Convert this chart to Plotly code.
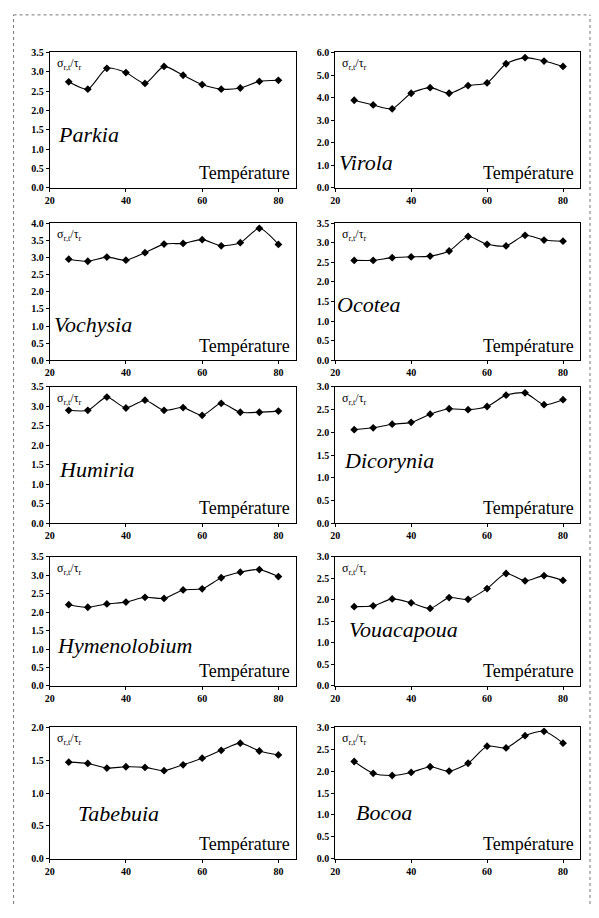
import plotly.graph_objects as go

temperature = [25, 30, 35, 40, 45, 50, 55, 60, 65, 70, 75, 80]

species = ["Parkia", "Virola", "Vochysia", "Ocotea", "Humiria",
           "Dicorynia", "Hymenolobium", "Vouacapoua", "Tabebuia", "Bocoa"]

parkia = [2.74, 2.55, 3.09, 2.98, 2.70, 3.14, 2.91, 2.67, 2.55, 2.58, 2.75, 2.78]
virola = [3.88, 3.67, 3.50, 4.19, 4.44, 4.19, 4.53, 4.65, 5.50, 5.77, 5.62, 5.38]
vochysia = [2.95, 2.89, 3.01, 2.92, 3.14, 3.39, 3.41, 3.52, 3.34, 3.43, 3.85, 3.38]
ocotea = [2.55, 2.55, 2.62, 2.64, 2.66, 2.79, 3.16, 2.96, 2.92, 3.19, 3.07, 3.04]
humiria = [2.90, 2.90, 3.24, 2.96, 3.16, 2.90, 2.97, 2.77, 3.08, 2.85, 2.85, 2.88]
dicorynia = [2.06, 2.10, 2.18, 2.22, 2.40, 2.52, 2.50, 2.57, 2.82, 2.87, 2.61, 2.72]
hymenolobium = [2.20, 2.13, 2.22, 2.27, 2.40, 2.37, 2.60, 2.63, 2.93, 3.08, 3.15, 2.96]
vouacapoua = [1.84, 1.86, 2.02, 1.93, 1.80, 2.05, 2.01, 2.26, 2.61, 2.44, 2.56, 2.45]
tabebuia = [1.47, 1.45, 1.38, 1.40, 1.39, 1.34, 1.43, 1.53, 1.65, 1.76, 1.64, 1.58]
bocoa = [2.22, 1.95, 1.90, 1.97, 2.10, 2.00, 2.18, 2.57, 2.53, 2.81, 2.91, 2.64]

series = [parkia, virola, vochysia, ocotea, humiria,
          dicorynia, hymenolobium, vouacapoua, tabebuia, bocoa]

y_max = [3.5, 6.0, 4.0, 3.5, 3.5, 3.0, 3.5, 3.0, 2.0, 3.0]
y_step = [0.5, 1.0, 0.5, 0.5, 0.5, 0.5, 0.5, 0.5, 0.5, 0.5]
x_ticks = [20, 40, 60, 80]

y_label = "σ<sub>r,t</sub>/τ<sub>r</sub>"
x_label = "Température"

# the page body has an 8px margin on each side: keep the figure inside the window
OFF = 8
W, H = 599 - 2 * OFF, 918 - 2 * OFF
cols = [(45, 293), (333, 580)]
rows = [(47, 184), (220, 359), (386, 524), (558, 689), (731, 864)]

# species name offsets (left px from panel left, center px from panel top)
name_pos = [(6, 83), (2, 111), (2, 103), (0, 82), (7, 84),
            (7, 75), (5, 90), (12, 74), (27, 87), (19, 86)]

serif = "Times New Roman, Liberation Serif, DejaVu Serif, serif"


def px_x(v):
    return (v - OFF) / W


def px_y(v):
    return 1 - (v - OFF) / H


fig = go.Figure()
annotations = []
layout = {}

for i, name in enumerate(species):
    r, c = divmod(i, 2)
    x0, x1 = cols[c]
    top, bot = rows[r]
    k = "" if i == 0 else str(i + 1)
    xa, ya = "x" + k, "y" + k
    fig.add_trace(go.Scatter(
        x=temperature, y=series[i], xaxis=xa, yaxis=ya,
        mode="lines+markers",
        line=dict(color="black", width=1.1, shape="spline", smoothing=0.7),
        marker=dict(symbol="diamond", size=6, color="black"),
        showlegend=False, hoverinfo="x+y"))
    tickfont = dict(family=serif, size=10, color="black", weight="bold")
    layout["xaxis" + k] = dict(
        domain=[px_x(x0), px_x(x1)], anchor=ya, range=[20, 84.5],
        tickvals=x_ticks, ticks="outside", ticklen=3, tickcolor="black",
        showline=True, linecolor="black", linewidth=1, mirror=True,
        showgrid=False, zeroline=False, tickfont=tickfont)
    layout["yaxis" + k] = dict(
        domain=[px_y(bot), px_y(top)], anchor=xa, range=[0, y_max[i]],
        dtick=y_step[i], tick0=0, tickformat=".1f",
        ticks="outside", ticklen=3, tickcolor="black",
        showline=True, linecolor="black", linewidth=1, mirror=True,
        showgrid=False, zeroline=False, tickfont=tickfont)
    # sigma label
    annotations.append(dict(
        text=y_label, xref="paper", yref="paper",
        x=px_x(x0 + 5), y=px_y(top + 12), xanchor="left", yanchor="middle",
        showarrow=False, font=dict(family=serif, size=12, color="black")))
    # species name
    nx, ny = name_pos[i]
    annotations.append(dict(
        text="<i>" + name + "</i>", xref="paper", yref="paper",
        x=px_x(x0 + nx), y=px_y(top + ny), xanchor="left", yanchor="middle",
        showarrow=False, font=dict(family=serif, size=22, color="black")))
    # temperature label
    annotations.append(dict(
        text=x_label, xref="paper", yref="paper",
        x=px_x(x1 - 4), y=px_y(bot - 15), xanchor="right", yanchor="middle",
        showarrow=False, font=dict(family=serif, size=18, color="black")))

border = dict(color="#777", width=1, dash="dot")
shapes = [
    dict(type="line", xref="paper", yref="paper", x0=0.001, x1=0.001, y0=0, y1=0.999, line=border),
    dict(type="line", xref="paper", yref="paper", x0=px_x(590), x1=px_x(590), y0=0, y1=0.999, line=border),
    dict(type="line", xref="paper", yref="paper", x0=0.001, x1=px_x(590), y0=0.999, y1=0.999, line=border),
]

fig.update_layout(
    width=W, height=H, margin=dict(l=0, r=0, t=0, b=0),
    paper_bgcolor="white", plot_bgcolor="white",
    font=dict(family=serif, color="black"),
    annotations=annotations, shapes=shapes, **layout)

fig.write_html("out.html")
